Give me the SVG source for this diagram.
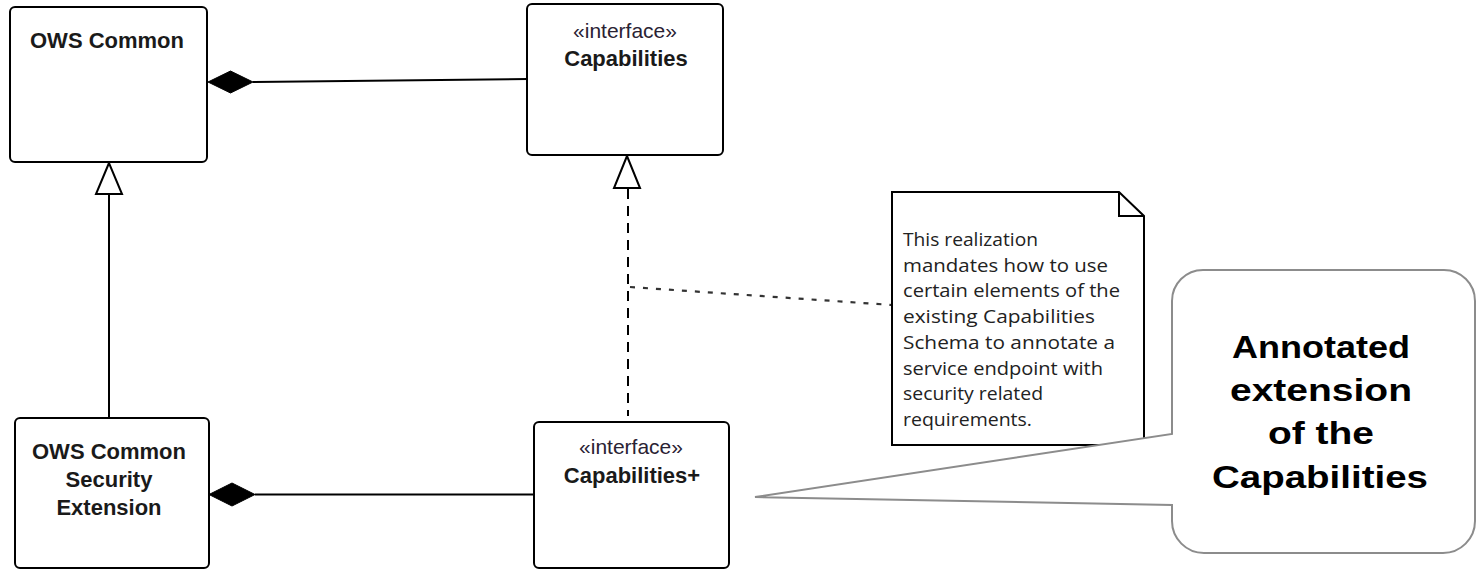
<svg xmlns="http://www.w3.org/2000/svg" width="1481" height="570" viewBox="0 0 1481 570">
  <style>
    .box { fill: #ffffff; stroke: #000000; stroke-width: 2; }
    .ln { fill: none; stroke: #000000; stroke-width: 2; }
    .title { font-family: "Liberation Sans", Arial, sans-serif; font-weight: bold; font-size: 22px; fill: #1a1a1a; text-anchor: middle; }
    .stereo { font-family: "Liberation Sans", Arial, sans-serif; font-size: 21px; fill: #2a2233; text-anchor: middle; }
    .note { font-family: "Open Sans", "Noto Sans", sans-serif; font-size: 18px; fill: #222222; }
    .call { font-family: "Liberation Sans", Arial, sans-serif; font-weight: bold; font-size: 32px; fill: #000000; text-anchor: middle; }
  </style>
  <rect width="1481" height="570" fill="#ffffff"/>

  <g id="connectors">
    <!-- composition OWS Common - Capabilities -->
    <line class="ln" x1="253" y1="82" x2="528" y2="79"/>
    <polygon points="208,82 230.5,71 253,82 230.5,93" fill="#000000" stroke="#000000" stroke-width="1"/>
    <!-- composition Security Extension - Capabilities+ -->
    <line class="ln" x1="255" y1="494.5" x2="534" y2="494.5"/>
    <polygon points="209,494.5 232,483 255,494.5 232,506" fill="#000000" stroke="#000000" stroke-width="1"/>
    <!-- generalization -->
    <line class="ln" x1="109" y1="194" x2="109" y2="418"/>
    <polygon points="109,163 96,194 122,194" fill="#ffffff" stroke="#000000" stroke-width="2"/>
    <!-- realization -->
    <line class="ln" x1="628" y1="189" x2="628" y2="416" stroke-dasharray="10,7"/>
    <polygon points="627,156 614,188 640,188" fill="#ffffff" stroke="#000000" stroke-width="2"/>
    <!-- note link -->
    <line x1="630" y1="287" x2="892" y2="305" stroke="#333333" stroke-width="2.2" stroke-dasharray="5,8"/>
  </g>

  <g id="ows-common">
    <rect class="box" x="10" y="7" width="197" height="155" rx="5"/>
    <text class="title" x="107" y="48">OWS Common</text>
  </g>

  <g id="capabilities">
    <rect class="box" x="527" y="4" width="196" height="151" rx="5"/>
    <text class="stereo" x="625" y="38">«interface»</text>
    <text class="title" x="626" y="66">Capabilities</text>
  </g>

  <g id="ows-common-security-extension">
    <rect class="box" x="15" y="418" width="194" height="150" rx="5"/>
    <text class="title" x="109" y="459">OWS Common</text>
    <text class="title" x="109" y="487">Security</text>
    <text class="title" x="109" y="515">Extension</text>
  </g>

  <g id="capabilities-plus">
    <rect class="box" x="534" y="422" width="195" height="146" rx="5"/>
    <text class="stereo" x="631" y="454">«interface»</text>
    <text class="title" x="632" y="483">Capabilities+</text>
  </g>

  <g id="note">
    <path class="box" d="M892,192 H1119 L1144,216 V445 H892 Z"/>
    <path class="ln" d="M1119,192 V216 H1144"/>
    <text class="note" x="903" y="246" textLength="135" lengthAdjust="spacingAndGlyphs">This realization</text>
    <text class="note" x="903" y="271.7" textLength="205" lengthAdjust="spacingAndGlyphs">mandates how to use</text>
    <text class="note" x="903" y="297.4" textLength="217" lengthAdjust="spacingAndGlyphs">certain elements of the</text>
    <text class="note" x="903" y="323.1" textLength="192" lengthAdjust="spacingAndGlyphs">existing Capabilities</text>
    <text class="note" x="903" y="348.8" textLength="212" lengthAdjust="spacingAndGlyphs">Schema to annotate a</text>
    <text class="note" x="903" y="374.5" textLength="200" lengthAdjust="spacingAndGlyphs">service endpoint with</text>
    <text class="note" x="903" y="400.2" textLength="140" lengthAdjust="spacingAndGlyphs">security related</text>
    <text class="note" x="903" y="425.9" textLength="129" lengthAdjust="spacingAndGlyphs">requirements.</text>
  </g>

  <g id="callout">
    <path d="M1203,270 H1444 A31,31 0 0 1 1475,301 V521 A32,32 0 0 1 1443,553 H1204 A32,32 0 0 1 1172,521 V505 L755,497 L1172,434 V301 A31,31 0 0 1 1203,270 Z" fill="#ffffff" stroke="#8c8c8c" stroke-width="2"/>
    <text class="call" x="1321" y="358" textLength="178" lengthAdjust="spacingAndGlyphs">Annotated</text>
    <text class="call" x="1321" y="401" textLength="182" lengthAdjust="spacingAndGlyphs">extension</text>
    <text class="call" x="1321" y="444" textLength="106" lengthAdjust="spacingAndGlyphs">of the</text>
    <text class="call" x="1320" y="488" textLength="216" lengthAdjust="spacingAndGlyphs">Capabilities</text>
  </g>
</svg>
